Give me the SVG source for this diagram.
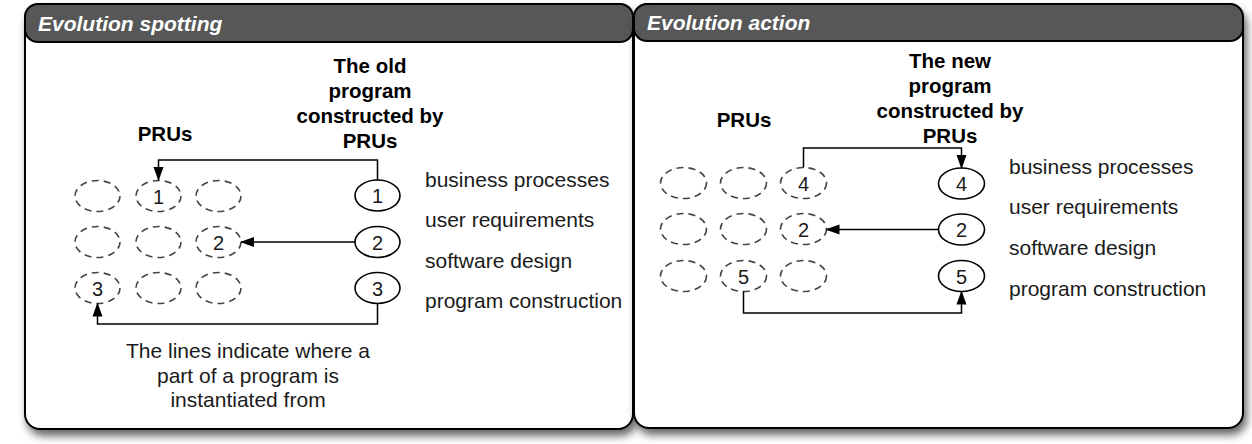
<svg xmlns="http://www.w3.org/2000/svg" width="1252" height="444" viewBox="0 0 1252 444">
<style>
.body{fill:#fff;stroke:#000;stroke-width:2}
.bar{fill:#575757;stroke:#000;stroke-width:2}
.title{font-family:"Liberation Sans",Arial,sans-serif;font-size:21px;font-weight:bold;font-style:italic;fill:#fff}
.bold{font-family:"Liberation Sans",Arial,sans-serif;font-size:20.5px;font-weight:bold;fill:#000;text-anchor:middle}
.lbl{font-family:"Liberation Sans",Arial,sans-serif;font-size:21px;fill:#1a1a1a}
.cap{font-family:"Liberation Sans",Arial,sans-serif;font-size:21px;fill:#1a1a1a;text-anchor:middle}
.num{font-family:"Liberation Sans",Arial,sans-serif;font-size:20px;fill:#1a1a1a;text-anchor:middle}
.dash{fill:none;stroke:#444;stroke-width:1.6;stroke-dasharray:7,5}
.solid{fill:#fff;stroke:#000;stroke-width:1.6}
.conn{fill:none;stroke:#000;stroke-width:1.5}
</style>
<defs>
<filter id="sh" x="-5%" y="-5%" width="112%" height="115%">
<feDropShadow dx="3" dy="6" stdDeviation="4" flood-color="#000" flood-opacity="0.6"/>
</filter>
<marker id="ah" markerUnits="userSpaceOnUse" markerWidth="14" markerHeight="12" viewBox="0 0 14 12" refX="13" refY="6" orient="auto">
<path d="M0,1 L14,6 L0,11 Z" fill="#000"/>
</marker>
</defs>

<g id="panel-spotting">
<rect class="body" x="25" y="4" width="608" height="425" rx="15" filter="url(#sh)"/>
<rect class="bar" x="25" y="4" width="608" height="38" rx="13"/>
<text class="title" x="38" y="31">Evolution spotting</text>
</g>

<g id="panel-action">
<rect class="body" x="634" y="4" width="609" height="424" rx="15" filter="url(#sh)"/>
<rect class="bar" x="634" y="4" width="609" height="37" rx="13"/>
<text class="title" x="647" y="30">Evolution action</text>
</g>

<g id="spotting-labels">
<text class="bold" x="165" y="141">PRUs</text>
<text class="bold" x="370" y="73">The old</text>
<text class="bold" x="370" y="98">program</text>
<text class="bold" x="370" y="123">constructed by</text>
<text class="bold" x="370" y="148">PRUs</text>
<text class="lbl" x="425" y="187">business processes</text>
<text class="lbl" x="425" y="227">user requirements</text>
<text class="lbl" x="425" y="268">software design</text>
<text class="lbl" x="425" y="308">program construction</text>
<text class="cap" x="248" y="358">The lines indicate where a</text>
<text class="cap" x="248" y="383">part of a program is</text>
<text class="cap" x="248" y="407">instantiated from</text>
</g>

<g id="spotting-prus">
<ellipse class="dash" cx="97.5" cy="196" rx="22.5" ry="15.5"/>
<ellipse class="dash" cx="158.5" cy="196" rx="22.5" ry="15.5"/>
<text class="num" x="158.5" y="203.5">1</text>
<ellipse class="dash" cx="218.5" cy="196" rx="22.5" ry="15.5"/>
<ellipse class="dash" cx="97.5" cy="242" rx="22.5" ry="15.5"/>
<ellipse class="dash" cx="158.5" cy="242" rx="22.5" ry="15.5"/>
<ellipse class="dash" cx="218.5" cy="242" rx="22.5" ry="15.5"/>
<text class="num" x="218.5" y="249.5">2</text>
<ellipse class="dash" cx="97.5" cy="288" rx="22.5" ry="15.5"/>
<text class="num" x="97.5" y="295.5">3</text>
<ellipse class="dash" cx="158.5" cy="288" rx="22.5" ry="15.5"/>
<ellipse class="dash" cx="218.5" cy="288" rx="22.5" ry="15.5"/>
</g>

<g id="spotting-old">
<ellipse class="solid" cx="377.5" cy="195.5" rx="22.5" ry="15.5"/>
<text class="num" x="377.5" y="203">1</text>
<ellipse class="solid" cx="377.5" cy="242" rx="22.5" ry="15.5"/>
<text class="num" x="377.5" y="249.5">2</text>
<ellipse class="solid" cx="377.5" cy="288" rx="22.5" ry="15.5"/>
<text class="num" x="377.5" y="295.5">3</text>
</g>

<g id="action-labels">
<text class="bold" x="744" y="127">PRUs</text>
<text class="bold" x="950" y="68">The new</text>
<text class="bold" x="950" y="93">program</text>
<text class="bold" x="950" y="118">constructed by</text>
<text class="bold" x="950" y="143">PRUs</text>
<text class="lbl" x="1009" y="174">business processes</text>
<text class="lbl" x="1009" y="214">user requirements</text>
<text class="lbl" x="1009" y="255">software design</text>
<text class="lbl" x="1009" y="296">program construction</text>
</g>

<g id="action-prus">
<ellipse class="dash" cx="683.5" cy="183" rx="23" ry="15.5"/>
<ellipse class="dash" cx="743.5" cy="183" rx="23" ry="15.5"/>
<ellipse class="dash" cx="803.5" cy="183" rx="23" ry="15.5"/>
<text class="num" x="803.5" y="190.5">4</text>
<ellipse class="dash" cx="683.5" cy="229" rx="23" ry="15.5"/>
<ellipse class="dash" cx="743.5" cy="229" rx="23" ry="15.5"/>
<ellipse class="dash" cx="803.5" cy="229" rx="23" ry="15.5"/>
<text class="num" x="803.5" y="236.5">2</text>
<ellipse class="dash" cx="683.5" cy="276" rx="23" ry="15.5"/>
<ellipse class="dash" cx="743.5" cy="276" rx="23" ry="15.5"/>
<text class="num" x="743.5" y="283.5">5</text>
<ellipse class="dash" cx="803.5" cy="276" rx="23" ry="15.5"/>
</g>

<g id="action-new">
<ellipse class="solid" cx="961.5" cy="183.5" rx="23" ry="15.5"/>
<text class="num" x="961.5" y="191">4</text>
<ellipse class="solid" cx="961.5" cy="229.5" rx="23" ry="15.5"/>
<text class="num" x="961.5" y="237">2</text>
<ellipse class="solid" cx="961.5" cy="276" rx="23" ry="15.5"/>
<text class="num" x="961.5" y="283.5">5</text>
</g>

<g id="connectors">
<path class="conn" d="M377.5,180 V160 H158.5 V180" marker-end="url(#ah)"/>
<path class="conn" d="M355,242 H241" marker-end="url(#ah)"/>
<path class="conn" d="M377.5,303.5 V324 H97.5 V303.5" marker-end="url(#ah)"/>
<path class="conn" d="M803.5,167.5 V148 H961.5 V168" marker-end="url(#ah)"/>
<path class="conn" d="M938.5,229.5 H826.5" marker-end="url(#ah)"/>
<path class="conn" d="M743.5,291.5 V313 H961.5 V291.5" marker-end="url(#ah)"/>
</g>
</svg>
